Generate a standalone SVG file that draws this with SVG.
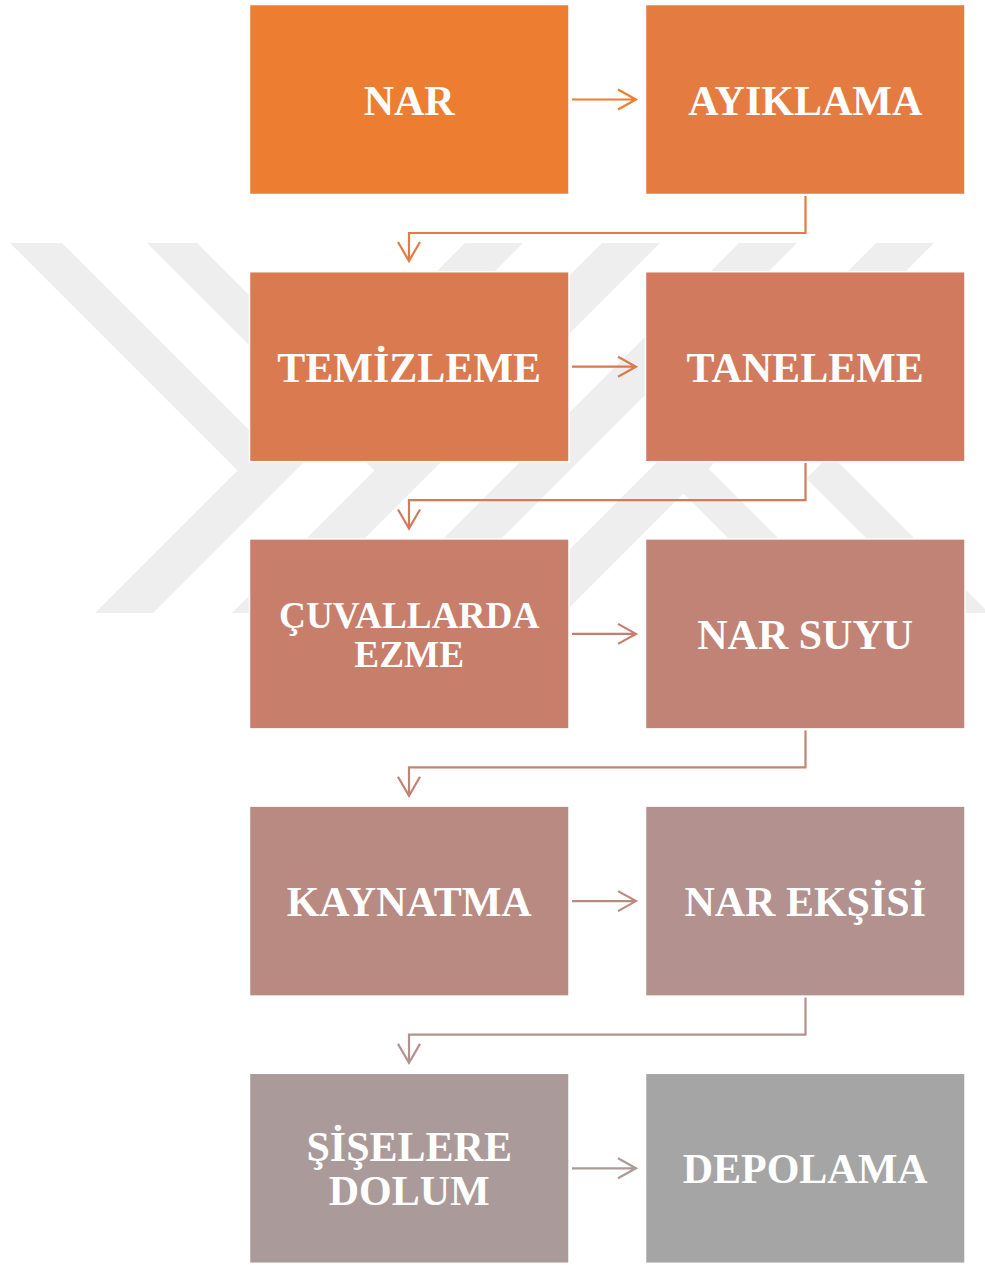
<svg xmlns="http://www.w3.org/2000/svg" width="985" height="1265" viewBox="0 0 985 1265">
<style>
.box{stroke:#ffffff;stroke-width:1.5}
.lbl{font-family:"Liberation Serif","Times New Roman",serif;font-weight:bold;font-size:42px;fill:#ffffff;text-anchor:middle}
.sm{font-size:37.3px}
.con{fill:none;stroke-width:2.2;stroke-linecap:butt;stroke-linejoin:miter}
.wm{fill:#eeeeee}
</style>
<rect x="0" y="0" width="985" height="1265" fill="#ffffff"/>
<g id="watermark">
<polygon class="wm" points="465,243 523,243 153,613 95,613"/>
<polygon class="wm" points="602,243 660,243 290,613 232,613"/>
<polygon class="wm" points="739,243 797,243 427,613 369,613"/>
<polygon class="wm" points="876,243 934,243 564,613 506,613"/>
<polygon class="wm" points="10,243 62,243 278,459 252,485"/>
<polygon class="wm" points="147,243 197,243 414,460 389,485"/>
<polygon class="wm" points="694,454 853,613 803,613 669,479"/>
<polygon class="wm" points="830.5,454.5 989,613 941,613 806.5,478.5"/>
</g>
<g id="connectors">
<path class="con" stroke="#ED7D31" d="M572,99.5 H636 M618,89.5 L636,99.5 L618,109.5"/>
<path class="con" stroke="#E47B40" d="M805.5,196 V233 H409 V261 M398,242 L409,261 L420,242"/>
<path class="con" stroke="#DA7A51" d="M572,366.7 H636 M618,356.7 L636,366.7 L618,376.7"/>
<path class="con" stroke="#D17A5E" d="M805.5,463 V500.2 H409 V528.5 M398,509.5 L409,528.5 L420,509.5"/>
<path class="con" stroke="#C77E6B" d="M572,633.9 H636 M618,623.9 L636,633.9 L618,643.9"/>
<path class="con" stroke="#C08375" d="M805.5,730.5 V767.4 H409 V795.7 M398,776.7 L409,795.7 L420,776.7"/>
<path class="con" stroke="#B98A82" d="M572,901.1 H636 M618,891.1 L636,901.1 L618,911.1"/>
<path class="con" stroke="#B2918E" d="M805.5,997.5 V1034.6 H409 V1062.9 M398,1043.9 L409,1062.9 L420,1043.9"/>
<path class="con" stroke="#AB9A9A" d="M572,1168.3 H636 M618,1158.3 L636,1168.3 L618,1178.3"/>
</g>
<g id="n1"><rect class="box" x="249.5" y="4.5" width="319.5" height="190" fill="#ED7D31"/><text class="lbl" x="409.2" y="114.5">NAR</text></g>
<g id="n2"><rect class="box" x="645.5" y="4.5" width="319.5" height="190" fill="#E47B40"/><text class="lbl" x="805.2" y="114.5">AYIKLAMA</text></g>
<g id="n3"><rect class="box" x="249.5" y="271.7" width="319.5" height="190" fill="#DA7A51"/><text class="lbl" x="409.2" y="381.7">TEMİZLEME</text></g>
<g id="n4"><rect class="box" x="645.5" y="271.7" width="319.5" height="190" fill="#D17A5E"/><text class="lbl" x="805.2" y="381.7">TANELEME</text></g>
<g id="n5"><rect class="box" x="249.5" y="538.9" width="319.5" height="190" fill="#C77E6B"/><text class="lbl sm" x="409.2" y="628">ÇUVALLARDA</text><text class="lbl sm" x="409.2" y="666.5">EZME</text></g>
<g id="n6"><rect class="box" x="645.5" y="538.9" width="319.5" height="190" fill="#C08375"/><text class="lbl" x="805.2" y="648.9">NAR SUYU</text></g>
<g id="n7"><rect class="box" x="249.5" y="806.1" width="319.5" height="190" fill="#B98A82"/><text class="lbl" x="409.2" y="916.1">KAYNATMA</text></g>
<g id="n8"><rect class="box" x="645.5" y="806.1" width="319.5" height="190" fill="#B2918E"/><text class="lbl" x="805.2" y="916.1">NAR EKŞİSİ</text></g>
<g id="n9"><rect class="box" x="249.5" y="1073.3" width="319.5" height="190" fill="#AB9A9A"/><text class="lbl" x="409.2" y="1160.5">ŞİŞELERE</text><text class="lbl" x="409.2" y="1204.5">DOLUM</text></g>
<g id="n10"><rect class="box" x="645.5" y="1073.3" width="319.5" height="190" fill="#A5A5A5"/><text class="lbl" x="805.2" y="1183.3">DEPOLAMA</text></g>
</svg>
